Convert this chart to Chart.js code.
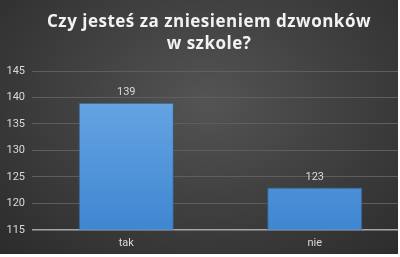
<!DOCTYPE html>
<html>
<head>
<meta charset="utf-8">
<script src="https://cdn.jsdelivr.net/npm/chart.js@4"></script>
<style>
  html, body { margin: 0; padding: 0; background: #ffffff; }
  #wrap {
    position: absolute; left: 0; top: 0; width: 398px; height: 254px;
    background: radial-gradient(ellipse at 52% 40%, #545454 0%, #414141 45%, #2b2b2b 100%);
  }
  #chart { position: absolute; left: 0; top: 0; width: 398px; height: 257px; overflow: hidden; }
</style>
</head>
<body>
<div id="wrap"></div>
<div id="chart"><canvas id="c" width="412" height="257"></canvas></div>
<script>
const titleLines = ['Czy jesteś za zniesieniem dzwonków', 'w szkole?'];
const categories = ['tak', 'nie'];
const votes = [139, 123];
const yTicks = [115, 120, 125, 130, 135, 140, 145];

// title drawn by hand so it can get the wide letter spacing of the original
const titlePlugin = {
  id: 'spacedTitle',
  afterDraw(chart) {
    const ctx = chart.ctx;
    ctx.save();
    ctx.font = 'bold 17px "Open Sans"';
    ctx.fillStyle = '#f2f2f2';
    ctx.textAlign = 'center';
    ctx.textBaseline = 'middle';
    ctx.letterSpacing = '0.5px';
    ctx.fillText(titleLines[0], 209, 22);
    ctx.fillText(titleLines[1], 209, 44);
    ctx.restore();
  }
};

// value labels above the bars
const valueLabels = {
  id: 'valueLabels',
  afterDatasetsDraw(chart) {
    const ctx = chart.ctx;
    const meta = chart.getDatasetMeta(0);
    ctx.save();
    ctx.font = '11px Roboto';
    ctx.fillStyle = '#d9d9d9';
    ctx.textAlign = 'center';
    ctx.textBaseline = 'bottom';
    meta.data.forEach((bar, i) => {
      ctx.fillText(votes[i], bar.x, bar.y - 5);
    });
    ctx.restore();
  }
};

const ctx = document.getElementById('c').getContext('2d');

function barFill(context) {
  const area = context.chart.chartArea;
  if (!area) return '#5b9bd5';
  const g = context.chart.ctx.createLinearGradient(0, area.top, 0, area.bottom);
  g.addColorStop(0, '#6fabe6');
  g.addColorStop(1, '#3f86d1');
  return g;
}

new Chart(ctx, {
  type: 'bar',
  data: {
    labels: categories,
    datasets: [{
      data: votes,
      backgroundColor: barFill,
      borderColor: '#34618f',
      borderWidth: 1,
      borderSkipped: 'bottom',
      barPercentage: 0.505,
      categoryPercentage: 1
    }]
  },
  options: {
    responsive: false,
    animation: false,
    layout: { padding: { top: 71, right: 3, bottom: 0, left: 0 } },
    plugins: {
      legend: { display: false },
      title: { display: false },
      tooltip: { enabled: false }
    },
    scales: {
      x: {
        grid: { display: false, drawTicks: false },
        border: { display: false },
        ticks: { color: '#d9d9d9', font: { family: 'Roboto', size: 11 }, padding: 7 }
      },
      y: {
        min: 115,
        max: 145,
        afterBuildTicks: (scale) => { scale.ticks = yTicks.map(v => ({ value: v })); },
        afterFit: (scale) => { scale.width = 32; },
        grid: {
          drawTicks: false,
          color: (c) => c.tick && c.tick.value === 115 ? '#a6a6a6' : '#5e5e5e',
          lineWidth: (c) => c.tick && c.tick.value === 115 ? 1.5 : 1
        },
        border: { display: false },
        ticks: { color: '#d9d9d9', font: { family: 'Roboto', size: 11 }, padding: 7 }
      }
    }
  },
  plugins: [titlePlugin, valueLabels]
});
</script>
</body>
</html>
